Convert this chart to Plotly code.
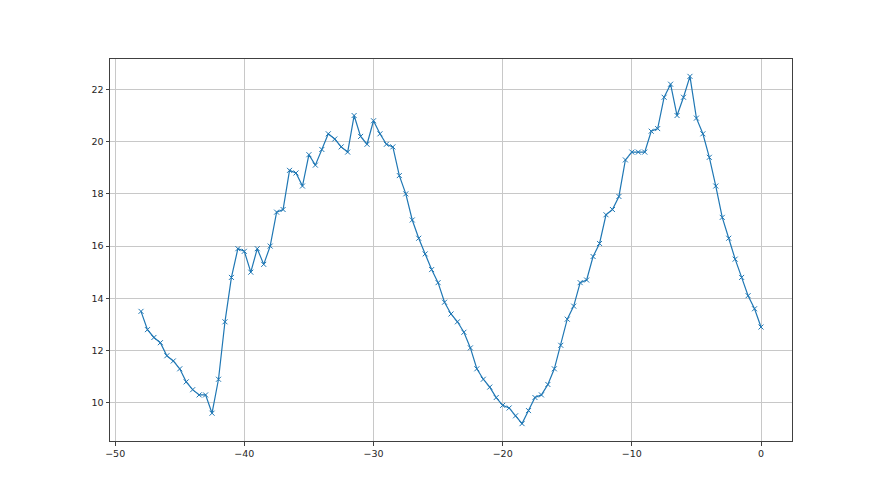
import plotly.graph_objects as go

x_vals = [-48.0, -47.5, -47.0, -46.5, -46.0, -45.5, -45.0, -44.5, -44.0, -43.5,
          -43.0, -42.5, -42.0, -41.5, -41.0, -40.5, -40.0, -39.5, -39.0, -38.5,
          -38.0, -37.5, -37.0, -36.5, -36.0, -35.5, -35.0, -34.5, -34.0, -33.5,
          -33.0, -32.5, -32.0, -31.5, -31.0, -30.5, -30.0, -29.5, -29.0, -28.5,
          -28.0, -27.5, -27.0, -26.5, -26.0, -25.5, -25.0, -24.5, -24.0, -23.5,
          -23.0, -22.5, -22.0, -21.5, -21.0, -20.5, -20.0, -19.5, -19.0, -18.5,
          -18.0, -17.5, -17.0, -16.5, -16.0, -15.5, -15.0, -14.5, -14.0, -13.5,
          -13.0, -12.5, -12.0, -11.5, -11.0, -10.5, -10.0, -9.5, -9.0, -8.5,
          -8.0, -7.5, -7.0, -6.5, -6.0, -5.5, -5.0, -4.5, -4.0, -3.5,
          -3.0, -2.5, -2.0, -1.5, -1.0, -0.5, 0.0]

y_vals = [13.5, 12.8, 12.5, 12.3, 11.8, 11.6, 11.3, 10.8, 10.5, 10.3,
          10.3, 9.6, 10.9, 13.1, 14.8, 15.9, 15.8, 15.0, 15.9, 15.3,
          16.0, 17.3, 17.4, 18.9, 18.8, 18.3, 19.5, 19.1, 19.7, 20.3,
          20.1, 19.8, 19.6, 21.0, 20.2, 19.9, 20.8, 20.3, 19.9, 19.8,
          18.7, 18.0, 17.0, 16.3, 15.7, 15.1, 14.6, 13.85, 13.4, 13.1,
          12.7, 12.1, 11.3, 10.9, 10.6, 10.2, 9.9, 9.8, 9.5, 9.2,
          9.7, 10.2, 10.3, 10.7, 11.3, 12.2, 13.2, 13.7, 14.6, 14.7,
          15.6, 16.1, 17.2, 17.4, 17.9, 19.3, 19.6, 19.6, 19.6, 20.4,
          20.5, 21.7, 22.2, 21.0, 21.7, 22.5, 20.9, 20.3, 19.4, 18.3,
          17.1, 16.3, 15.5, 14.8, 14.1, 13.6, 12.9]

x_ticks = [-50, -40, -30, -20, -10, 0]
y_ticks = [10, 12, 14, 16, 18, 20, 22]

fig = go.Figure()
fig.add_trace(go.Scatter(
    x=x_vals, y=y_vals, mode="lines+markers",
    line=dict(color="#1f77b4", width=1.2),
    marker=dict(symbol="x-thin", size=5, color="#1f77b4",
                line=dict(color="#1f77b4", width=1)),
    showlegend=False,
))

axis_common = dict(
    showgrid=True, gridcolor="#c8c8c8", gridwidth=0.8,
    showline=True, linecolor="#404040", linewidth=1, mirror=True,
    ticks="outside", ticklen=3.5, tickwidth=0.8, tickcolor="#404040",
    zeroline=False,
    tickfont=dict(family="DejaVu Sans", size=9.5, color="#262626"),
)

fig.update_layout(
    width=880, height=495,
    margin=dict(l=102, r=96, t=51, b=62),
    paper_bgcolor="white", plot_bgcolor="white",
    xaxis=dict(range=[-50.4, 2.4], tickvals=x_ticks,
               ticktext=["\u221250", "\u221240", "\u221230", "\u221220", "\u221210", "0"],
               **axis_common),
    yaxis=dict(range=[8.535, 23.165], tickvals=y_ticks, **axis_common),
)

fig.write_html("out.html")
